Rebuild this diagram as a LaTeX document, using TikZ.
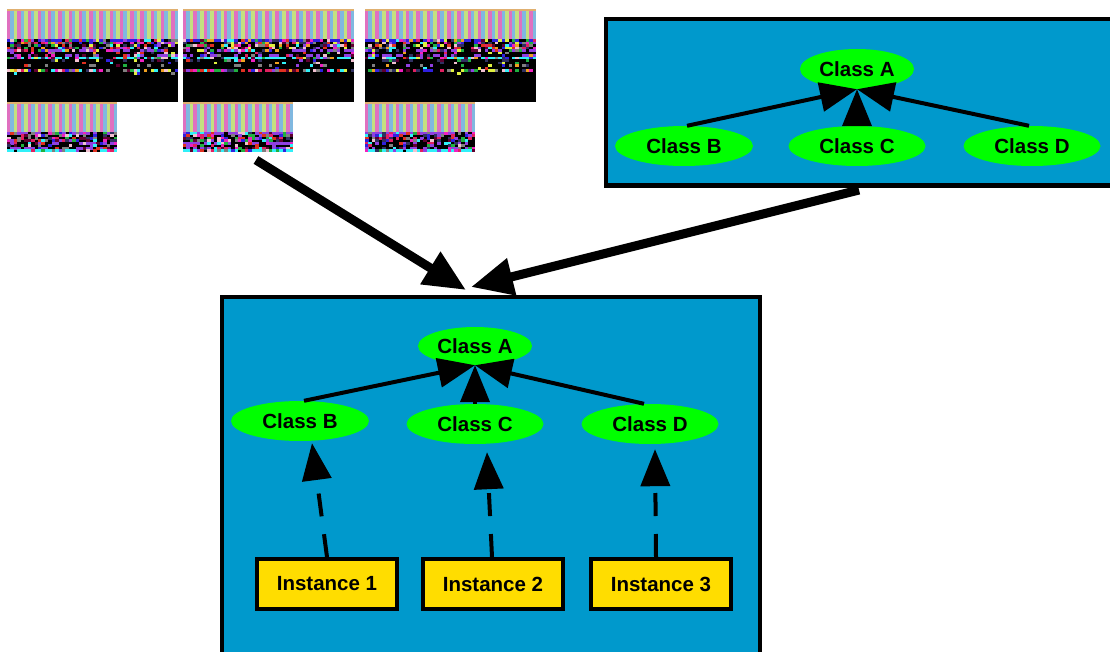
\documentclass[tikz,border=0pt]{standalone}
\usepackage{fontspec}
\setmainfont{Liberation Sans}
\usetikzlibrary{shapes.geometric,arrows.meta,calc}
\definecolor{boxblue}{HTML}{0099CC}
\definecolor{nodegreen}{HTML}{00FF00}
\definecolor{gold}{HTML}{FFDD00}
\definecolor{tanstrip}{HTML}{E0B070}
\definecolor{stp0}{HTML}{E070C0}
\definecolor{stp1}{HTML}{80B8E0}
\definecolor{stp2}{HTML}{C4E080}
\definecolor{nz0}{HTML}{000000}
\definecolor{nz1}{HTML}{0A0A0A}
\definecolor{nz2}{HTML}{161616}
\definecolor{nz3}{HTML}{E02060}
\definecolor{nz4}{HTML}{F020C0}
\definecolor{nz5}{HTML}{3020E0}
\definecolor{nz6}{HTML}{30F0F8}
\definecolor{nz7}{HTML}{9040E0}
\definecolor{nz8}{HTML}{600030}
\definecolor{nz9}{HTML}{20B040}
\definecolor{nz10}{HTML}{F0C0D0}
\definecolor{nz11}{HTML}{E03020}
\definecolor{nz12}{HTML}{303060}
\definecolor{nz13}{HTML}{808080}
\definecolor{nz14}{HTML}{F0A020}
\definecolor{nz15}{HTML}{E0F040}
\begin{document}
\begin{tikzpicture}[x=1pt,y=-1pt,
  cls/.style={ellipse,fill=nodegreen,inner sep=0pt,minimum width=137pt,minimum height=40pt,
    font=\fontsize{20.5}{24}\selectfont\bfseries},
  inst/.style={rectangle,draw=black,line width=4pt,fill=gold,minimum width=140pt,minimum height=50pt,
    inner sep=0pt,font=\fontsize{20.5}{24}\selectfont\bfseries},
  container/.style={rectangle,draw=black,line width=4.5pt,fill=boxblue,inner sep=0pt},
  inherit/.style={line width=4pt,-{Triangle[length=37pt,width=29pt]}},
  realize/.style={line width=4pt,dash pattern=on 23pt off 18pt,-{Triangle[length=37pt,width=29pt]}},
  bigarrow/.style={line width=9pt,-{Triangle[length=42pt,width=36pt]}}
]
\useasboundingbox (0,0) rectangle (1110,652);
\clip (0,0) rectangle (1110,652);
\fill[white] (0,0) rectangle (1110,652);

% ---- noisy image blocks ----
\pgfmathsetseed{11}
\foreach \bx in {7,183,365} {
  \fill[tanstrip] (\bx,9) rectangle ++(171,2.6);
  \foreach \i in {0,...,49} {
    \pgfmathtruncatemacro{\c}{mod(\i,3)}
    \fill[stp\c] (\bx+\i*3.42,11.5) rectangle ++(3.5,27.6);
  }
  \fill[black] (\bx,39) rectangle ++(171,63);
  % row: index / percent black / special colour (0 = none)
  \foreach \j/\bp/\sp in {0/8/5,1/40/0,2/45/0,3/40/0,4/25/7,5/80/0,6/50/7,7/20/6,8/75/12,9/90/0,10/85/13,11/95/0,12/25/0,13/96/15} {
    \foreach \i in {0,...,49} {
      \pgfmathrandominteger{\r}{0}{99}
      \pgfmathrandominteger{\q}{3}{15}
      \pgfmathrandominteger{\s}{0}{1}
      \pgfmathtruncatemacro{\k}{\r<\bp ? 0 : ((\sp>0 && \s==1) ? \sp : \q)}
      \ifnum\k>0
        \fill[nz\k] (\bx+\i*3.42,39+\j*2.54) rectangle ++(3.5,2.6);
      \fi
    }
  }
  \fill[tanstrip] (\bx,102) rectangle ++(110,2.6);
  \foreach \i in {0,...,31} {
    \pgfmathtruncatemacro{\c}{mod(\i,3)}
    \fill[stp\c] (\bx+\i*3.44,104.5) rectangle ++(3.5,27.6);
  }
  \fill[black] (\bx,132) rectangle ++(110,20);
  \foreach \j/\bp/\sp in {0/10/7,1/40/0,2/40/0,3/40/0,4/40/7,5/70/0,6/30/7,7/20/6} {
    \foreach \i in {0,...,31} {
      \pgfmathrandominteger{\r}{0}{99}
      \pgfmathrandominteger{\q}{3}{13}
      \pgfmathrandominteger{\s}{0}{1}
      \pgfmathtruncatemacro{\k}{\r<\bp ? 0 : ((\sp>0 && \s==1) ? \sp : \q)}
      \ifnum\k>0
        \fill[nz\k] (\bx+\i*3.44,132+\j*2.5) rectangle ++(3.5,2.55);
      \fi
    }
  }
}

% ---- containers ----
\node[container,minimum width=512pt,minimum height=166.5pt] (topbox) at (862,102.25) {};
\node[container,minimum width=538pt,minimum height=403pt] (botbox) at (491,498.5) {};

% ---- top-right hierarchy ----
\node[cls,minimum width=114pt] (tA) at (857,69) {Class A};
\node[cls,minimum width=138pt] (tB) at (684,146) {Class B};
\node[cls] (tC) at (857,146) {Class C};
\node[cls] (tD) at (1032,146) {Class D};
\draw[inherit] ([xshift=3pt]tB.north) -- (tA.south);
\draw[inherit] (tC.north) -- (tA.south);
\draw[inherit] ([xshift=-3pt]tD.north) -- (tA.south);

% ---- bottom hierarchy ----
\node[cls,minimum width=114pt,minimum height=38pt] (bA) at (475,346) {Class A};
\node[cls,minimum width=138pt] (bB) at (300,421) {Class B};
\node[cls] (bC) at (475,424) {Class C};
\node[cls] (bD) at (650,424) {Class D};
\draw[inherit] ([xshift=4pt]bB.north) -- (bA.south);
\draw[inherit] (bC.north) -- (bA.south);
\draw[inherit] ([xshift=-6pt]bD.north) -- (bA.south);

\node[inst] (i1) at (327,584) {Instance 1};
\node[inst] (i2) at (493,584) {Instance 2};
\node[inst] (i3) at (661,584) {Instance 3};
\draw[realize] (i1.north) -- ([xshift=12pt,yshift=-2pt]bB.south);
\draw[realize] ([xshift=-1pt]i2.north) -- ([xshift=12pt,yshift=-8pt]bC.south);
\draw[realize] ([xshift=-5pt]i3.north) -- ([xshift=5pt,yshift=-5pt]bD.south);

% ---- big arrows ----
\coordinate (src1) at (256,160);
\coordinate (tgt1) at (466,290);
\coordinate (src2) at (859,190);
\coordinate (tgt2) at (471,287);
\draw[bigarrow] (src1) -- (tgt1);
\draw[bigarrow] (src2) -- (tgt2);
\end{tikzpicture}
\end{document}
